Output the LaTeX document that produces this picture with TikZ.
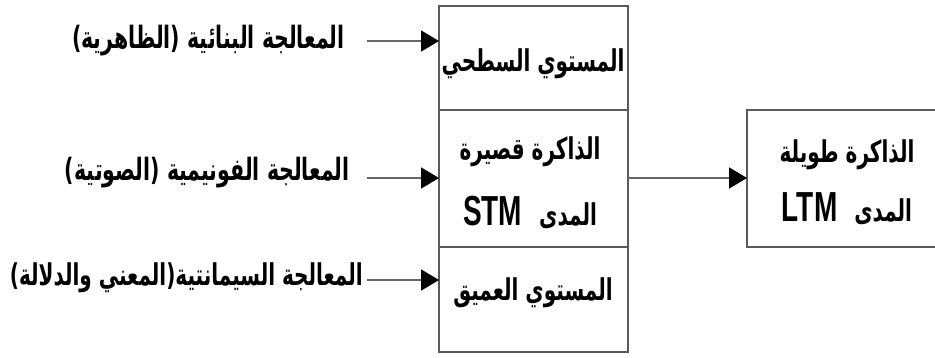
\documentclass[tikz,border=0pt]{standalone}
\usepackage{fontspec}
\usetikzlibrary{arrows.meta}
\TeXXeTstate=1
\newfontfamily\arabicfont[Script=Arabic]{DejaVu Sans}
\newfontfamily\latinfont{Liberation Sans}
\newcommand{\tall}[1]{\scalebox{1}[1.5]{#1}}
\newcommand{\lat}[1]{{\latinfont\bfseries\fontsize{28}{30}\selectfont #1}}
\begin{document}
\begin{tikzpicture}[x=1pt,y=-1pt,
  cell/.style={draw=black!65,line width=2.6pt},
  lab/.style={font=\arabicfont\bfseries\fontsize{20.5}{24}\selectfont,inner sep=0pt},
  inlab/.style={font=\arabicfont\bfseries\fontsize{20}{24}\selectfont,inner sep=0pt},
  arr/.style={draw=black!60,line width=1.8pt,-{Triangle[length=18pt,width=21pt,fill=black,color=black]}}]
\useasboundingbox (0,0) rectangle (935,357);
\clip (0,0) rectangle (935,357);
% middle column
\draw[cell] (439,6) rectangle (628,352);
\draw[cell] (439,110) -- (628,110);
\draw[cell] (439,247) -- (628,247);
\coordinate (top) at (439,41);
\coordinate (midL) at (439,178);
\coordinate (bot) at (439,280);
\coordinate (midR) at (628,178);
% LTM box
\draw[cell] (747,110) rectangle (960,247);
\coordinate (ltm) at (747,178);
% cell texts
\node[inlab] (t1) at (533,64) {\tall{\beginR المستوي السطحي\endR}};
\node[inlab] (t2) at (530,152) {\tall{\beginR الذاكرة قصيرة\endR}};
\node[inlab] (t3) at (530,212) {\tall{\lat{STM}\hspace{17pt}\beginR المدى\endR}};
\node[inlab] (t4) at (533,293) {\tall{\beginR المستوي العميق\endR}};
\node[inlab] (l1) at (847,155) {\tall{\beginR الذاكرة طويلة\endR}};
\node[inlab] (l2) at (847,209) {\tall{\lat{LTM}\hspace{17pt}\beginR المدى\endR}};
% left labels
\node[lab,anchor=east] (a1) at (345,41) {\tall{\beginR المعالجة البنائية (الظاهرية)\endR}};
\node[lab,anchor=east] (a2) at (350,173) {\tall{\beginR المعالجة الفونيمية (الصوتية)\endR}};
\node[lab,anchor=east,font=\arabicfont\bfseries\fontsize{20}{24}\selectfont] (a3) at (363,278) {\tall{\beginR المعالجة السيمانتية(المعني والدلالة)\endR}};
% arrows
\draw[arr] (367,41) -- (top);
\draw[arr] (367,178) -- (midL);
\draw[arr] (367,280) -- (bot);
\draw[arr] (midR) -- (ltm);
\end{tikzpicture}
\end{document}
